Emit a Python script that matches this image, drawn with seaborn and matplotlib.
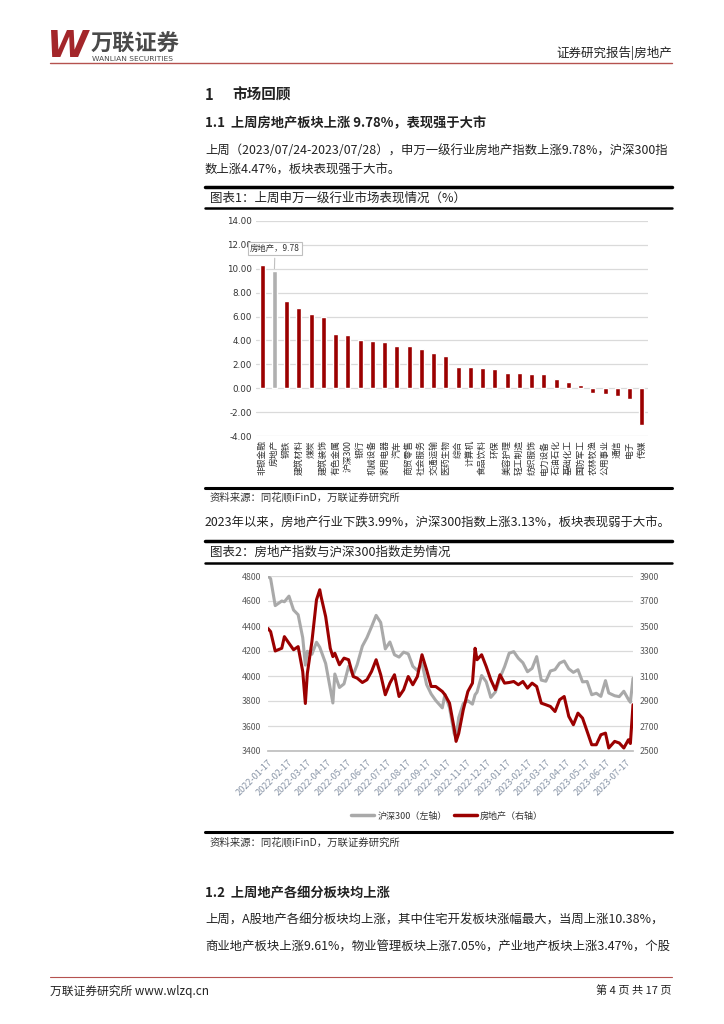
import numpy as np
import pandas as pd
import matplotlib
matplotlib.use("Agg")
import matplotlib.pyplot as plt
import matplotlib.dates as mdates
from matplotlib.lines import Line2D
import seaborn as sns

RED = '#9B0000'
GREY = '#B0B0B0'
DARK = '#222222'

# 图表1: 申万一级行业周涨跌幅 (%)
industries = ['非银金融', '房地产', '钢铁', '建筑材料', '煤炭', '建筑装饰', '有色金属', '沪深300',
              '银行', '机械设备', '家用电器', '汽车', '商贸零售', '社会服务', '交通运输', '医药生物',
              '综合', '计算机', '食品饮料', '环保', '美容护理', '轻工制造', '纺织服饰', '电力设备',
              '石油石化', '基础化工', '国防军工', '农林牧渔', '公用事业', '通信', '电子', '传媒']
changes = [10.30, 9.78, 7.30, 6.72, 6.20, 5.95, 4.55, 4.47,
           4.02, 3.97, 3.88, 3.55, 3.50, 3.32, 2.96, 2.70,
           1.80, 1.78, 1.69, 1.64, 1.28, 1.25, 1.17, 1.17,
           0.75, 0.50, 0.28, -0.42, -0.47, -0.67, -0.89, -3.11]

# 图表2: 沪深300(左轴) 与 房地产指数(右轴)
dates = ['2022-01-17', '2022-01-21', '2022-01-28', '2022-02-07', '2022-02-11', '2022-02-18', '2022-02-25',
         '2022-03-04', '2022-03-11', '2022-03-15', '2022-03-18', '2022-03-25', '2022-04-01', '2022-04-06',
         '2022-04-08', '2022-04-15', '2022-04-22', '2022-04-26', '2022-04-29', '2022-05-06', '2022-05-13',
         '2022-05-20', '2022-05-27', '2022-06-02', '2022-06-10', '2022-06-17', '2022-06-24', '2022-07-01',
         '2022-07-08', '2022-07-15', '2022-07-22', '2022-07-29', '2022-08-05', '2022-08-12', '2022-08-19',
         '2022-08-26', '2022-09-02', '2022-09-09', '2022-09-16', '2022-09-23', '2022-09-30', '2022-10-10',
         '2022-10-14', '2022-10-21', '2022-10-28', '2022-10-31', '2022-11-04', '2022-11-11', '2022-11-18',
         '2022-11-25', '2022-11-29', '2022-12-02', '2022-12-09', '2022-12-16', '2022-12-23', '2022-12-30',
         '2023-01-06', '2023-01-13', '2023-01-20', '2023-01-27', '2023-02-03', '2023-02-10', '2023-02-17',
         '2023-02-24', '2023-03-03', '2023-03-10', '2023-03-17', '2023-03-24', '2023-03-31', '2023-04-07',
         '2023-04-14', '2023-04-21', '2023-04-28', '2023-05-05', '2023-05-12', '2023-05-19', '2023-05-26',
         '2023-06-02', '2023-06-09', '2023-06-16', '2023-06-21', '2023-06-30', '2023-07-07', '2023-07-14',
         '2023-07-21', '2023-07-24', '2023-07-28']
hs300 = [4799, 4779, 4563, 4600, 4594, 4639, 4528,
         4490, 4306, 4087, 4198, 4174, 4270, 4230,
         4201, 4100, 3900, 3784, 4016, 3908, 3937,
         4077, 4009, 4090, 4239, 4307, 4394, 4485,
         4428, 4217, 4272, 4170, 4151, 4191, 4177,
         4078, 4043, 4103, 3932, 3856, 3804, 3745,
         3852, 3747, 3541, 3508, 3667, 3780, 3802,
         3775, 3850, 3871, 4004, 3954, 3829, 3872,
         3987, 4074, 4182, 4195, 4142, 4106, 4034,
         4061, 4155, 3967, 3958, 4040, 4051, 4103,
         4120, 4057, 4029, 4050, 3953, 3956, 3850,
         3862, 3837, 3963, 3864, 3842, 3835, 3878,
         3813, 3790, 3981]
fdc = [3480, 3455, 3300, 3322, 3415, 3362, 3310,
       3335, 3136, 2880, 3120, 3375, 3710, 3790,
       3735, 3575, 3322, 3255, 3282, 3190, 3243,
       3230, 3096, 3083, 3048, 3070, 3136, 3230,
       3110, 2950, 3043, 3110, 2936, 2990, 3096,
       3030, 3096, 3270, 3150, 3016, 3016, 2976,
       2950, 2883, 2683, 2577, 2640, 2830, 2976,
       3043, 3322, 3230, 3270, 3176, 3070, 2990,
       3110, 3043, 3048, 3056, 3030, 3056, 3003,
       3043, 3016, 2883, 2870, 2856, 2816, 2910,
       2936, 2777, 2710, 2803, 2763, 2657, 2550,
       2550, 2630, 2643, 2524, 2577, 2564, 2524,
       2590, 2560, 2870]

sns.set_theme(style='white')
plt.rcParams['font.family'] = ['Noto Sans CJK SC', 'DejaVu Sans']
plt.rcParams['axes.unicode_minus'] = False

W, H = 724, 1024
fig = plt.figure(figsize=(W / 100, H / 100), dpi=100)


def fx(x):
    return x / W


def fy(y):
    return 1 - y / H


def text(x, y, s, **kw):
    kw.setdefault('color', DARK)
    fig.text(fx(x), fy(y), s, va='center', **kw)


def hline(y, x0=205, x1=672, lw=1.0, color='black'):
    fig.add_artist(Line2D([fx(x0), fx(x1)], [fy(y), fy(y)], lw=lw, color=color,
                          transform=fig.transFigure))


# header
text(47, 47, 'W', fontsize=27, fontweight='bold', style='italic', color='#A3262A', family='DejaVu Sans')
text(91, 44, '万联证券', fontsize=16, fontweight='bold', color='#4A4A4A')
text(92, 59, 'WANLIAN SECURITIES', fontsize=5.4, color='#4A4A4A', family='DejaVu Sans')
text(672, 53, '证券研究报告|房地产', fontsize=9, ha='right')
hline(63, 50, 672, lw=1.0, color='#B5524F')

# section 1
text(205, 95, '1', fontsize=10.5, fontweight='bold')
text(232, 95, '市场回顾', fontsize=10.5, fontweight='bold')
text(205, 123, '1.1  上周房地产板块上涨 9.78%，表现强于大市', fontsize=9.5, fontweight='bold')
text(205, 150, '上周（2023/07/24-2023/07/28），申万一级行业房地产指数上涨9.78%，沪深300指', fontsize=8.9)
text(205, 170, '数上涨4.47%，板块表现强于大市。', fontsize=8.9)

# chart 1 frame
hline(187, lw=2.5)
text(210, 198, '图表1：上周申万一级行业市场表现情况（%）', fontsize=9)
hline(208, lw=1.8)
hline(488, lw=2.2)
text(210, 497, '资料来源：同花顺iFinD，万联证券研究所', fontsize=7.5, color='#333333')

bar_df = pd.DataFrame({'industry': industries, 'change': changes})
palette = {n: (GREY if n == '房地产' else RED) for n in industries}
ax1 = fig.add_axes([fx(256), fy(436), fx(648) - fx(256), fy(221) - fy(436)])
sns.barplot(data=bar_df, x='industry', y='change', hue='industry', palette=palette,
            legend=False, width=0.42, dodge=False, saturation=1, ax=ax1)
ax1.set_ylim(-4, 14)
ax1.set_xlim(-0.5, len(industries) - 0.5)
yt = np.arange(-4, 15, 2)
ax1.set_yticks(yt)
ax1.set_yticklabels([f'{v:.2f}' for v in yt], fontsize=6.3, color='#333333', family='DejaVu Sans')
ax1.grid(axis='y', color='#DADADA', lw=0.9)
ax1.set_axisbelow(True)
for sp in ax1.spines.values():
    sp.set_visible(False)
ax1.set_xlabel('')
ax1.set_ylabel('')
ax1.tick_params(length=0, pad=3)
ax1.set_xticks(range(len(industries)))
ax1.set_xticklabels(industries, rotation=90, fontsize=6.3, color='#333333', va='top')
ax1.annotate('房地产，9.78', xy=(1, changes[1]), xytext=(1.05, 11.7), fontsize=6,
             ha='center', va='center', color='#333333',
             bbox=dict(boxstyle='square,pad=0.25', fc='white', ec='#BFBFBF', lw=0.8),
             arrowprops=dict(arrowstyle='-', color='#BFBFBF', lw=0.8))

text(205, 523, '2023年以来，房地产行业下跌3.99%，沪深300指数上涨3.13%，板块表现弱于大市。', fontsize=8.9)

# chart 2 frame
hline(541, lw=2.5)
text(210, 552, '图表2：房地产指数与沪深300指数走势情况', fontsize=9)
hline(563, lw=1.8)
hline(832, lw=2.2)
text(210, 842, '资料来源：同花顺iFinD，万联证券研究所', fontsize=7.5, color='#333333')

line_df = pd.DataFrame({'date': pd.to_datetime(dates), 'hs300': hs300, 'fdc': fdc})
ax2 = fig.add_axes([fx(268), fy(751), fx(633) - fx(268), fy(576) - fy(751)])
sns.lineplot(data=line_df, x='date', y='hs300', color='#A9A9A9', lw=2.2, ax=ax2)
ax3 = ax2.twinx()
sns.lineplot(data=line_df, x='date', y='fdc', color=RED, lw=2.2, ax=ax3)
ax2.set_ylim(3400, 4800)
ax3.set_ylim(2500, 3900)
ax2.set_yticks(np.arange(3400, 4801, 200))
ax3.set_yticks(np.arange(2500, 3901, 200))
ax2.set_xlim(pd.Timestamp('2022-01-17'), pd.Timestamp('2023-07-28'))
ax2.grid(axis='y', color='#DADADA', lw=0.9)
ax2.set_axisbelow(True)
for a in (ax2, ax3):
    for sp in a.spines.values():
        sp.set_visible(False)
    a.set_xlabel('')
    a.set_ylabel('')
    a.tick_params(axis='y', length=0, labelsize=6.3, labelcolor='#595959', pad=5)
ax2.spines['bottom'].set_visible(True)
ax2.spines['bottom'].set_color('#BFBFBF')
ax2.xaxis.set_major_locator(mdates.MonthLocator(bymonthday=17))
ax2.xaxis.set_major_formatter(mdates.DateFormatter('%Y-%m-%d'))
ax2.tick_params(axis='x', length=3, color='#BFBFBF', labelsize=6.6, labelcolor='#8A96A8', pad=2)
for lab in ax2.get_xticklabels():
    lab.set_rotation(45)
    lab.set_ha('right')
    lab.set_rotation_mode('anchor')

fig.legend(handles=[Line2D([], [], color='#A9A9A9', lw=2.5), Line2D([], [], color=RED, lw=2.5)],
           labels=['沪深300（左轴）', '房地产（右轴）'], loc='center',
           bbox_to_anchor=(fx(447), fy(816)), ncol=2, frameon=False, fontsize=6.5,
           handlelength=2.6, columnspacing=0.8, handletextpad=0.3, labelcolor='#333333')

# section 1.2
text(205, 893, '1.2  上周地产各细分板块均上涨', fontsize=9.5, fontweight='bold')
text(205, 920, '上周，A股地产各细分板块均上涨，其中住宅开发板块涨幅最大，当周上涨10.38%，', fontsize=8.9)
text(205, 947, '商业地产板块上涨9.61%，物业管理板块上涨7.05%，产业地产板块上涨3.47%，个股', fontsize=8.9)

# footer
hline(977, 50, 672, lw=0.8, color='#B5524F')
text(50, 991, '万联证券研究所 www.wlzq.cn', fontsize=8.5)
text(672, 991, '第 4 页 共 17 页', fontsize=8, ha='right')

fig.savefig('out.png', dpi=100)
